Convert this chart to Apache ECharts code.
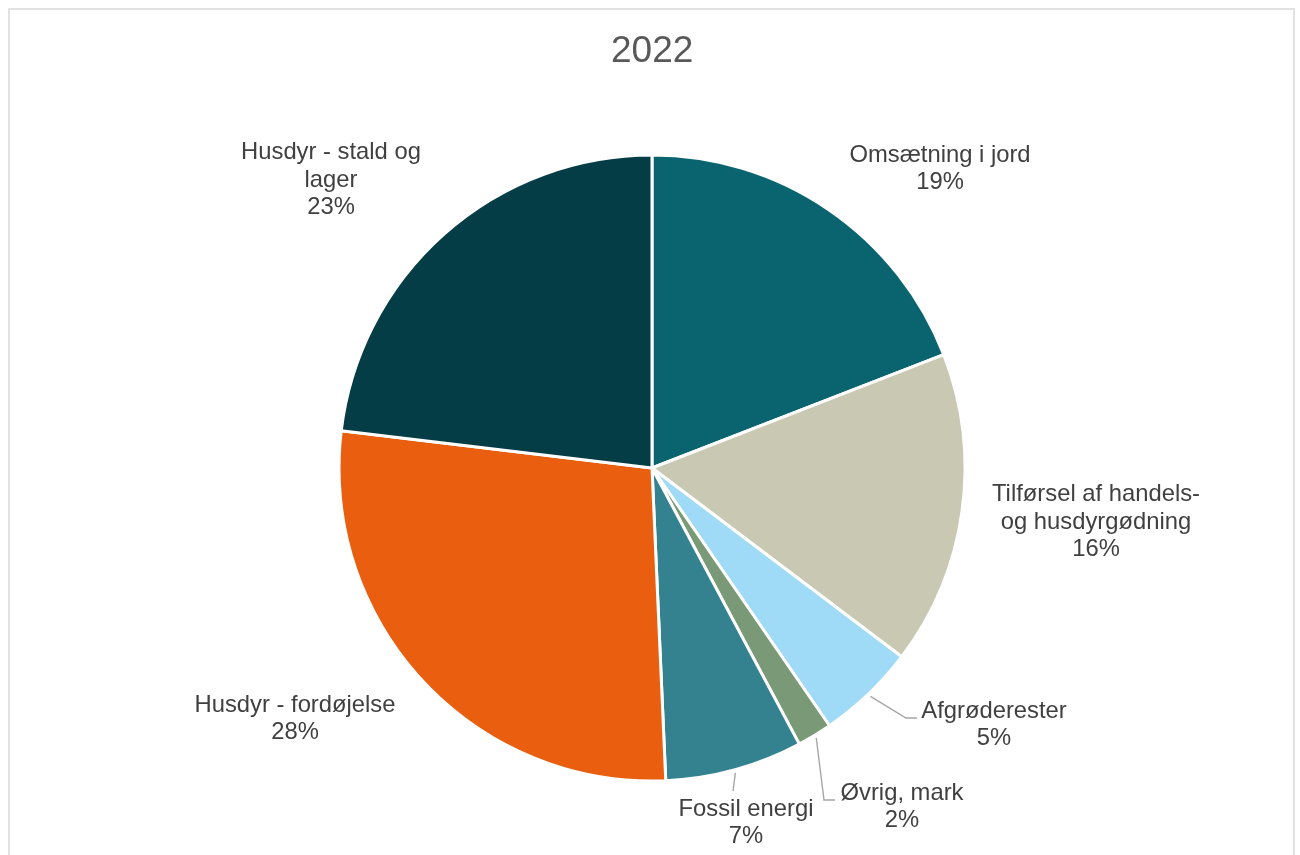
<!DOCTYPE html>
<html>
<head>
<meta charset="utf-8">
<script src="https://cdn.jsdelivr.net/npm/echarts@6/dist/echarts.min.js"></script>
<style>html,body{margin:0;padding:0;background:#fff;}#c{width:1300px;height:855px;}</style>
</head>
<body>
<div id="c"></div>
<script>
var title = '2022';
var categories = ['Omsætning i jord', 'Tilførsel af handels-\nog husdyrgødning', 'Afgrøderester', 'Øvrig, mark', 'Fossil energi', 'Husdyr - fordøjelse', 'Husdyr - stald og\nlager'];
var values = [19.1, 16.2, 5.1, 1.8, 7.1, 27.6, 23.1];
var colors = ['#09646F', '#C8C8B3', '#9FDAF7', '#7A9A77', '#348290', '#E95E0F', '#043D45'];

// label placement (offsets from pie centre), styling only
var CX = 652, CY = 468, R = 313;
var labelOffsets = [[288, -299], [444, 54], [342, 257], [250, 339], [94, 355], [-357, 251], [-321, -288]];
var lineBends = [null, null, [[254, 250], [265, 250]], [[172, 332], [183, 332]], [[81, 323]], null, null];

var total = values.reduce(function (a, b) { return a + b; }, 0);
var midAngles = [];
var acc = 0;
values.forEach(function (v) { midAngles.push((acc + v / 2) / total * 2 * Math.PI); acc += v; });

var data = categories.map(function (n, i) {
  return {
    name: n, value: values[i],
    itemStyle: { color: colors[i] },
    labelLine: { show: !!lineBends[i] }
  };
});

var chart = echarts.init(document.getElementById('c'));
chart.setOption({
  animation: false,
  backgroundColor: '#fff',
  title: {
    text: title, left: 606, top: 28, padding: 5,
    textStyle: { fontFamily: 'Liberation Sans, Arial, sans-serif', fontSize: 37, fontWeight: 'normal', color: '#595959' }
  },
  graphic: [{
    type: 'rect', shape: { x: 9, y: 9, width: 1285, height: 900 },
    style: { fill: 'none', stroke: '#D9D9D9', lineWidth: 1.5 }, silent: true, z: -1
  }],
  series: [{
    type: 'pie',
    center: [CX, CY],
    radius: R,
    startAngle: 90,
    clockwise: true,
    percentPrecision: 0,
    data: data,
    itemStyle: { borderColor: '#fff', borderWidth: 3 },
    label: {
      show: true, position: 'outside',
      formatter: '{b}\n{d}%',
      fontFamily: 'Liberation Sans, Arial, sans-serif', fontSize: 23.8, lineHeight: 27.5, color: '#404040', align: 'center'
    },
    labelLine: { show: true, lineStyle: { color: '#A6A6A6', width: 1.4 }, length: 10, length2: 10 },
    labelLayout: function (p) {
      var i = p.dataIndex;
      var o = labelOffsets[i];
      var res = { x: CX + o[0], y: CY + o[1], align: 'center', verticalAlign: 'middle' };
      if (lineBends[i]) {
        var a = midAngles[i];
        var pts = [[CX + (R + 3) * Math.sin(a), CY - (R + 3) * Math.cos(a)]];
        lineBends[i].forEach(function (b) { pts.push([CX + b[0], CY + b[1]]); });
        res.labelLinePoints = pts;
      }
      return res;
    }
  }]
});
</script>
</body>
</html>
